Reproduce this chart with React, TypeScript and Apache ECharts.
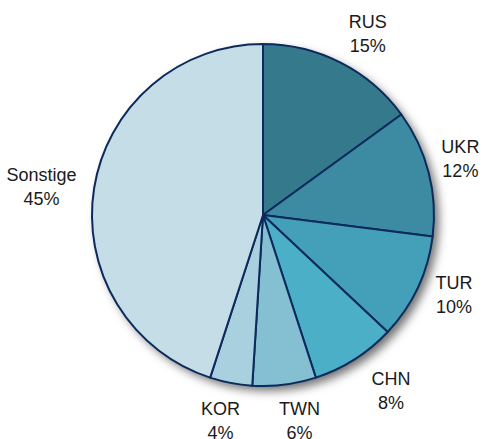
import React, { useEffect, useRef } from "react";
import * as echarts from "echarts";

const categories = ["RUS", "UKR", "TUR", "CHN", "TWN", "KOR", "Sonstige"];
const shares = [15, 12, 10, 8, 6, 4, 45];
const colors = ["#357a8c", "#3d8ba3", "#43a0b8", "#4bafc8", "#84c0d2", "#a9d0df", "#c5dde6"];
// small per-label nudges (px) to match the reference label placement
const labelOffsets = [[9, 7], [-7, -4], [0, -10], [15, -2], [10, -3], [-3, -1], [-13, 5]];

export default function App() {
  const ref = useRef<HTMLDivElement>(null);
  useEffect(() => {
    document.body.style.margin = "0";
    const chart = echarts.init(ref.current!, null, { renderer: "svg" });
    const center = [263, 215];
    const data = categories.map((c, i) => ({ name: c, value: shares[i], itemStyle: { color: colors[i] } }));
    chart.setOption({
      animation: false,
      backgroundColor: "#ffffff",
      series: [
        {
          type: "pie",
          silent: true,
          center,
          radius: [0, 171],
          startAngle: 90,
          label: { show: false },
          labelLine: { show: false },
          itemStyle: {
            color: "#ffffff",
            shadowBlur: 10,
            shadowOffsetX: 5,
            shadowOffsetY: 5,
            shadowColor: "rgba(0,0,0,0.55)",
          },
          data: [{ name: "bg", value: 1 }],
        },
        {
          type: "pie",
          silent: true,
          center,
          radius: [0, 171],
          startAngle: 90,
          clockwise: true,
          label: { show: false },
          labelLine: { show: false },
          itemStyle: { borderColor: "#0c2a5c", borderWidth: 2 },
          data,
        },
        {
          type: "pie",
          silent: true,
          center,
          radius: [188, 228],
          startAngle: 90,
          clockwise: true,
          itemStyle: { color: "rgba(0,0,0,0)" },
          labelLine: { show: false },
          label: {
            show: true,
            position: "inside",
            rotate: 0,
            formatter: (p: any) => `${p.name}\n${p.value}%`,
            fontFamily: "Liberation Sans, Arial, sans-serif",
            fontSize: 18,
            lineHeight: 24,
            color: "#1a1a1a",
            align: "center",
          },
          data: categories.map((c, i) => ({
            name: c,
            value: shares[i],
            label: { offset: labelOffsets[i] },
          })),
        },
      ],
    });
    return () => chart.dispose();
  }, []);
  return <div ref={ref} style={{ width: 482, height: 439 }} />;
}
